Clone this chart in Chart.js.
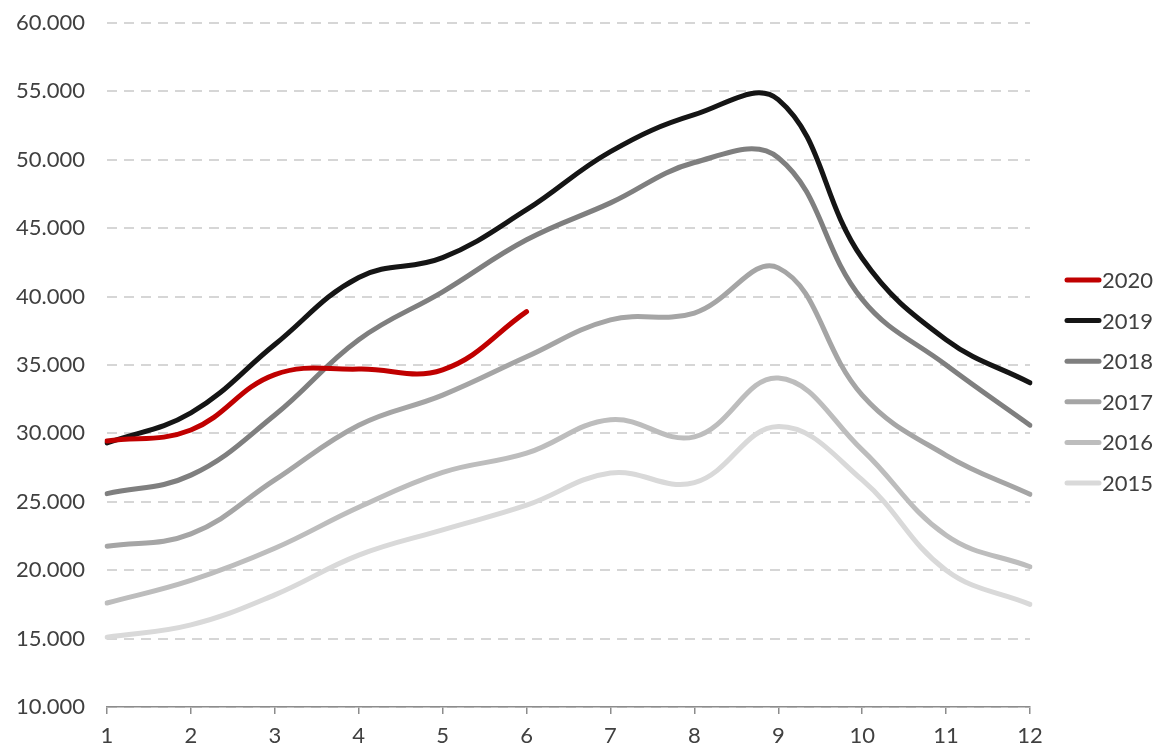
<!DOCTYPE html>
<html>
<head>
<meta charset="utf-8">
<script src="https://cdn.jsdelivr.net/npm/chart.js@4/dist/chart.umd.min.js"></script>
<style>
  html, body { margin: 0; padding: 0; background: #fff; }
  #wrap { width: 1160px; height: 749px; }
</style>
</head>
<body>
<div id="wrap"><canvas id="chart"></canvas></div>
<script>
var months = ['1','2','3','4','5','6','7','8','9','10','11','12'];
var years = ['2020','2019','2018','2017','2016','2015'];
var v2020 = [29450, 30250, 34300, 34700, 34650, 38900];
var v2019 = [29300, 31500, 36500, 41400, 42850, 46350, 50600, 53300, 54400, 42800, 36850, 33700];
var v2018 = [25600, 26950, 31350, 36850, 40350, 44150, 46850, 49800, 50150, 39800, 35000, 30600];
var v2017 = [21750, 22650, 26600, 30600, 32800, 35600, 38300, 38800, 42100, 32800, 28400, 25550];
var v2016 = [17600, 19250, 21600, 24600, 27150, 28550, 31000, 29750, 34050, 28800, 22550, 20250];
var v2015 = [15100, 16000, 18200, 21100, 22950, 24750, 27100, 26400, 30500, 26600, 20000, 17500];
var colors = ['#c00000', '#151515', '#7f7f7f', '#a5a5a5', '#bdbdbd', '#d9d9d9'];

var series = [v2020, v2019, v2018, v2017, v2016, v2015];
var datasets = series.map(function(s, i){
  return {
    label: years[i], data: s,
    borderColor: colors[i], backgroundColor: colors[i],
    borderWidth: 5, borderCapStyle: 'round', pointRadius: 0, tension: 0.4, fill: false,
    order: i
  };
});

function dotThousands(v){
  return String(v).replace(/\B(?=(\d{3})+(?!\d))/g, '.');
}

// legend drawn by hand: short thick line, label right next to it
var sideLegend = {
  id: 'sideLegend',
  afterDraw: function(chart){
    var ctx = chart.ctx, area = chart.chartArea;
    var x0 = area.right + 37, step = 40.6;
    var y0 = chart.height / 2 + 7 - step * (chart.data.datasets.length - 1) / 2;
    ctx.save();
    ctx.font = '22px Lato, "Open Sans", sans-serif';
    ctx.textBaseline = 'middle';
    chart.data.datasets.forEach(function(ds, i){
      var y = y0 + i * step;
      ctx.strokeStyle = ds.borderColor; ctx.lineWidth = 5; ctx.lineCap = 'round';
      ctx.beginPath(); ctx.moveTo(x0, y); ctx.lineTo(x0 + 32, y); ctx.stroke();
      ctx.fillStyle = '#404040';
      ctx.fillText(ds.label, x0 + 35, y + 1);
    });
    ctx.restore();
  }
};

Chart.defaults.font.family = 'Lato, "Open Sans", sans-serif';
Chart.defaults.color = '#404040';

new Chart(document.getElementById('chart'), {
  type: 'line',
  data: { labels: months, datasets: datasets },
  options: {
    responsive: true, maintainAspectRatio: false, animation: false,
    layout: { padding: { top: 23, right: 130, bottom: 0, left: 4 } },
    plugins: { tooltip: { enabled: false }, legend: { display: false } },
    scales: {
      x: {
        offset: false,
        afterFit: function(scale){ scale.height = 42; scale.paddingLeft = 0; scale.paddingRight = 0; },
        grid: { display: true, drawOnChartArea: false, drawTicks: true, tickLength: 7, color: '#8c8c8c', lineWidth: 1.5 },
        border: { display: true, color: '#8c8c8c', width: 1.5 },
        ticks: { font: { size: 22 }, padding: 9, maxRotation: 0 }
      },
      y: {
        min: 10000, max: 60000,
        afterFit: function(scale){ scale.width = 103; scale.paddingTop = 0; scale.paddingBottom = 0; },
        grid: { color: '#d6d6d6', lineWidth: 2, drawTicks: false },
        border: { display: false, dash: [10, 7] },
        ticks: { stepSize: 5000, font: { size: 22 }, padding: 22, callback: function(v){ return dotThousands(v); } }
      }
    }
  },
  plugins: [sideLegend]
});
</script>
</body>
</html>
